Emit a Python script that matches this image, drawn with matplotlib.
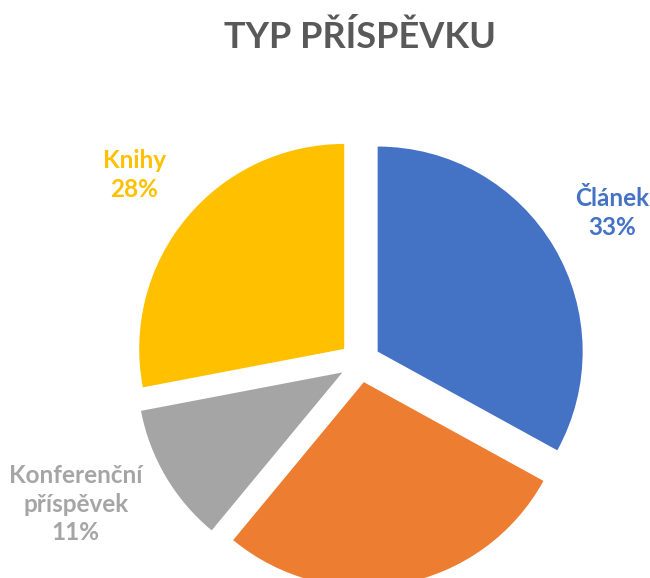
import matplotlib.pyplot as plt
import numpy as np

# data
categories = ["Článek", "Monografie", "Konferenční\npříspěvek", "Knihy"]
shares = [33, 28, 11, 28]
colors = ["#4472C4", "#ED7D31", "#A5A5A5", "#FFC000"]

plt.rcParams['font.family'] = ['Lato', 'DejaVu Sans']

W, H = 650, 578
cx, cy, R = 360, 362, 205  # pie centre / radius in pixels

fig = plt.figure(figsize=(W / 100, H / 100), dpi=100)
ax = fig.add_axes([0, 0, 1, 1])

labels = [f"{c}\n{s}%" for c, s in zip(categories, shares)]
wedges, texts = ax.pie(shares, colors=colors, startangle=90, counterclock=False,
                       explode=[0.1] * len(shares), labels=labels,
                       labeldistance=1.33, radius=1.0,
                       wedgeprops=dict(linewidth=0),
                       textprops=dict(fontsize=17.5, fontweight='bold'))

for t, col in zip(texts, colors):
    t.set_color(col)
    t.set_ha('center')
    t.set_va('center')
    t.set_linespacing(1.3)

# orange label lies below the visible area in the original
texts[1].set_visible(False)

# gray label sits further out, a bit rotated towards the left
w = wedges[2]
ang = np.deg2rad((w.theta1 + w.theta2) / 2 - 4)
texts[2].set_position((1.55 * np.cos(ang), 1.55 * np.sin(ang)))

ax.set_xlim(-cx / R, (W - cx) / R)
ax.set_ylim(-(H - cy) / R, cy / R)
ax.axis('off')

fig.text(0.554, 1 - 37 / H, "TYP PŘÍSPĚVKU", ha='center', va='center',
         fontsize=26, fontweight='bold', color='#595959')

fig.savefig("out.png", dpi=100)
